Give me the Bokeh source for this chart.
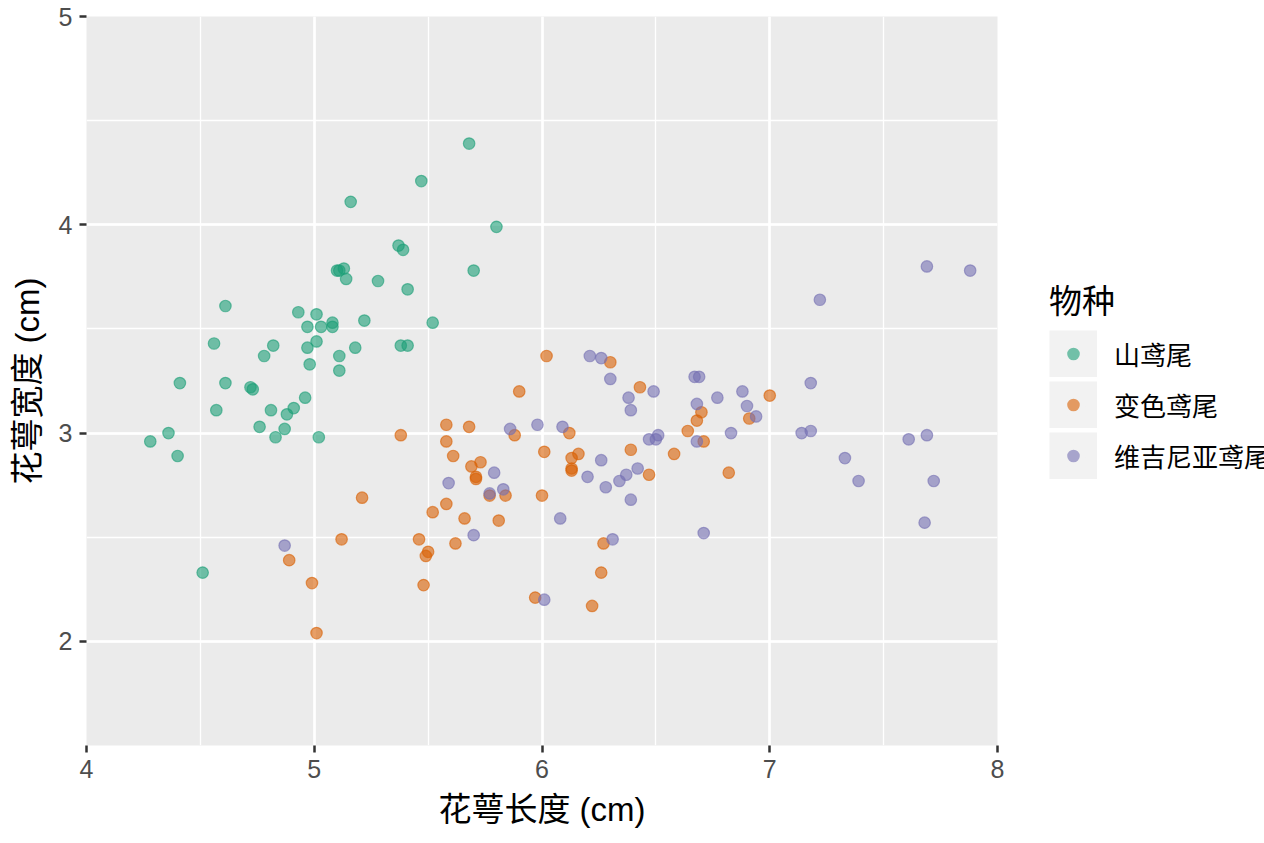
import numpy as np
from bokeh.plotting import figure
from bokeh.models import (ColumnDataSource, Range1d, SingleIntervalTicker,
                          Legend, LegendItem)
from bokeh.embed import file_html
from bokeh.resources import INLINE

# ---------------- data ----------------
species = ["山鸢尾", "变色鸢尾", "维吉尼亚鸢尾"]
colors = ["#1B9E77", "#D95F02", "#7570B3"]

setosa_x = [5.68, 5.47, 5.16, 5.80, 5.37, 5.39, 5.10, 5.13, 5.11, 5.14,
            5.28, 5.41, 5.70, 4.61, 4.93, 5.01, 5.22, 5.52, 4.97, 5.03,
            5.08, 5.08, 4.56, 4.82, 4.78, 4.97, 5.01, 5.11, 5.18, 4.98,
            5.11, 5.38, 5.41, 4.41, 4.61, 4.72, 4.73, 4.96, 4.91, 4.88,
            4.81, 4.57, 4.76, 4.87, 4.83, 5.02, 4.36, 4.28, 4.40, 4.51]
setosa_y = [4.39, 4.21, 4.11, 3.99, 3.90, 3.88, 3.78, 3.79, 3.78, 3.74,
            3.73, 3.69, 3.78, 3.61, 3.58, 3.57, 3.54, 3.53, 3.51, 3.51,
            3.53, 3.51, 3.43, 3.42, 3.37, 3.41, 3.44, 3.37, 3.41, 3.33,
            3.30, 3.42, 3.42, 3.24, 3.24, 3.22, 3.21, 3.17, 3.12, 3.09,
            3.11, 3.11, 3.03, 3.02, 2.98, 2.98, 3.00, 2.96, 2.89, 2.33]

versicolor_x = [6.02, 5.90, 5.38, 5.58, 5.68, 5.88, 6.12, 6.01, 5.58, 5.61,
                6.16, 6.13, 6.13, 6.13, 5.73, 5.69, 5.71, 5.84, 6.00, 5.58,
                5.52, 5.21, 5.12, 4.89, 4.99, 5.01, 5.46, 5.50, 5.49, 5.48,
                5.66, 5.62, 5.81, 5.77, 5.71, 5.97, 6.22, 6.27, 6.26, 6.30,
                6.43, 6.39, 6.47, 6.58, 6.64, 6.68, 6.70, 6.71, 6.82, 6.91,
                7.00]
versicolor_y = [3.37, 3.20, 2.99, 3.04, 3.03, 2.99, 3.00, 2.91, 2.96, 2.89,
                2.90, 2.88, 2.83, 2.82, 2.86, 2.84, 2.79, 2.70, 2.70, 2.66,
                2.62, 2.69, 2.49, 2.39, 2.28, 2.04, 2.49, 2.43, 2.41, 2.27,
                2.59, 2.47, 2.58, 2.70, 2.78, 2.21, 2.17, 2.47, 2.33, 3.34,
                3.22, 2.92, 2.80, 2.90, 3.01, 3.06, 3.10, 2.96, 2.81, 3.07,
                3.18]

virginica_x = [6.21, 6.26, 5.86, 5.98, 6.09, 5.79, 5.59, 5.77, 5.83, 6.20,
               6.26, 4.87, 5.70, 6.08, 6.01, 6.30, 6.38, 6.39, 6.49, 6.47,
               6.51, 6.50, 6.28, 6.34, 6.37, 6.42, 6.67, 6.69, 6.77, 6.88,
               6.90, 6.94, 6.68, 6.68, 6.83, 6.39, 6.31, 6.71, 7.69, 7.88,
               7.22, 7.18, 7.14, 7.18, 7.33, 7.39, 7.61, 7.69, 7.72, 7.68]
virginica_y = [3.37, 3.36, 3.02, 3.04, 3.03, 2.81, 2.76, 2.71, 2.73, 2.79,
               2.87, 2.46, 2.51, 2.59, 2.20, 3.26, 3.17, 3.11, 3.20, 2.97,
               2.99, 2.97, 2.74, 2.77, 2.80, 2.83, 3.27, 3.27, 3.17, 3.20,
               3.13, 3.08, 3.14, 2.96, 3.00, 2.68, 2.49, 2.52, 3.80, 3.78,
               3.64, 3.24, 3.00, 3.01, 2.88, 2.77, 2.97, 2.99, 2.77, 2.57]

x_title = "花萼长度 (cm)"
y_title = "花萼宽度 (cm)"
legend_title = "物种"

series_x = [setosa_x, versicolor_x, virginica_x]
series_y = [setosa_y, versicolor_y, virginica_y]

# ---------------- figure ----------------
LATIN_CJK = "Liberation Sans, Noto Sans CJK SC"

p = figure(frame_width=911, frame_height=729,
           min_border_left=86, min_border_top=16,
           min_border_right=267, min_border_bottom=97,
           x_range=Range1d(4, 8), y_range=Range1d(1.5, 5),
           output_backend="svg", toolbar_location=None,
           background_fill_color="#EBEBEB", border_fill_color="white")
p.outline_line_color = None

for ax in (p.xaxis[0], p.yaxis[0]):
    ax.ticker = SingleIntervalTicker(interval=1, num_minor_ticks=2)
    ax.axis_line_color = None
    ax.major_tick_in = 0
    ax.major_tick_out = 7
    ax.major_tick_line_width = 2.5
    ax.major_tick_line_color = "#333333"
    ax.minor_tick_line_color = None
    ax.major_label_text_font = "Liberation Sans"
    ax.major_label_text_font_size = "25px"
    ax.major_label_text_color = "#4D4D4D"
    ax.major_label_standoff = 7
    ax.axis_label_text_font = LATIN_CJK
    ax.axis_label_text_font_size = "33px"
    ax.axis_label_text_font_style = "normal"
    ax.axis_label_text_color = "black"
    ax.axis_label_standoff = 10

p.xaxis.axis_label = x_title
p.yaxis.axis_label = y_title

for g in (p.xgrid[0], p.ygrid[0]):
    g.grid_line_color = "white"
    g.grid_line_width = 2.6
    g.minor_grid_line_color = "white"
    g.minor_grid_line_width = 1.3

# ---------------- points ----------------
renderers = []
for xs, ys, c in zip(series_x, series_y, colors):
    src = ColumnDataSource(dict(x=xs, y=ys))
    r = p.scatter("x", "y", source=src, size=11.5, fill_color=c, fill_alpha=0.6,
                  line_color=c, line_alpha=0.6, line_width=1.2)
    renderers.append(r)

# ---------------- legend (ggplot-like keys) ----------------
GLYPH_W, GLYPH_H = 48, 47
nan = np.array([np.nan])
# a thick butt-capped line fills the whole key box (grey95 key background)
key_box = p.line(x=nan, y=nan, line_color="#F2F2F2", line_width=GLYPH_H,
                 line_cap="butt")
# grey ring trims the legend dot down to the size of the plotted points
key_ring = p.scatter(x=nan, y=nan, size=10, fill_color=None,
                     line_color="#F2F2F2", line_width=6.2)

items = [LegendItem(label=s, renderers=[key_box, r, key_ring])
         for s, r in zip(species, renderers)]
legend = Legend(items=items, location=(52, 266),
                title=legend_title,
                title_text_font="Noto Sans CJK SC",
                title_text_font_size="33px",
                title_text_font_style="normal",
                title_text_color="black",
                title_standoff=7,
                label_text_font="Noto Sans CJK SC",
                label_text_font_size="26px",
                label_text_color="black",
                label_standoff=17,
                glyph_width=GLYPH_W, glyph_height=GLYPH_H,
                spacing=4, padding=0, margin=0,
                border_line_color=None, background_fill_alpha=0)
p.add_layout(legend, "right")

open("out.html", "w").write(file_html(p, INLINE))
